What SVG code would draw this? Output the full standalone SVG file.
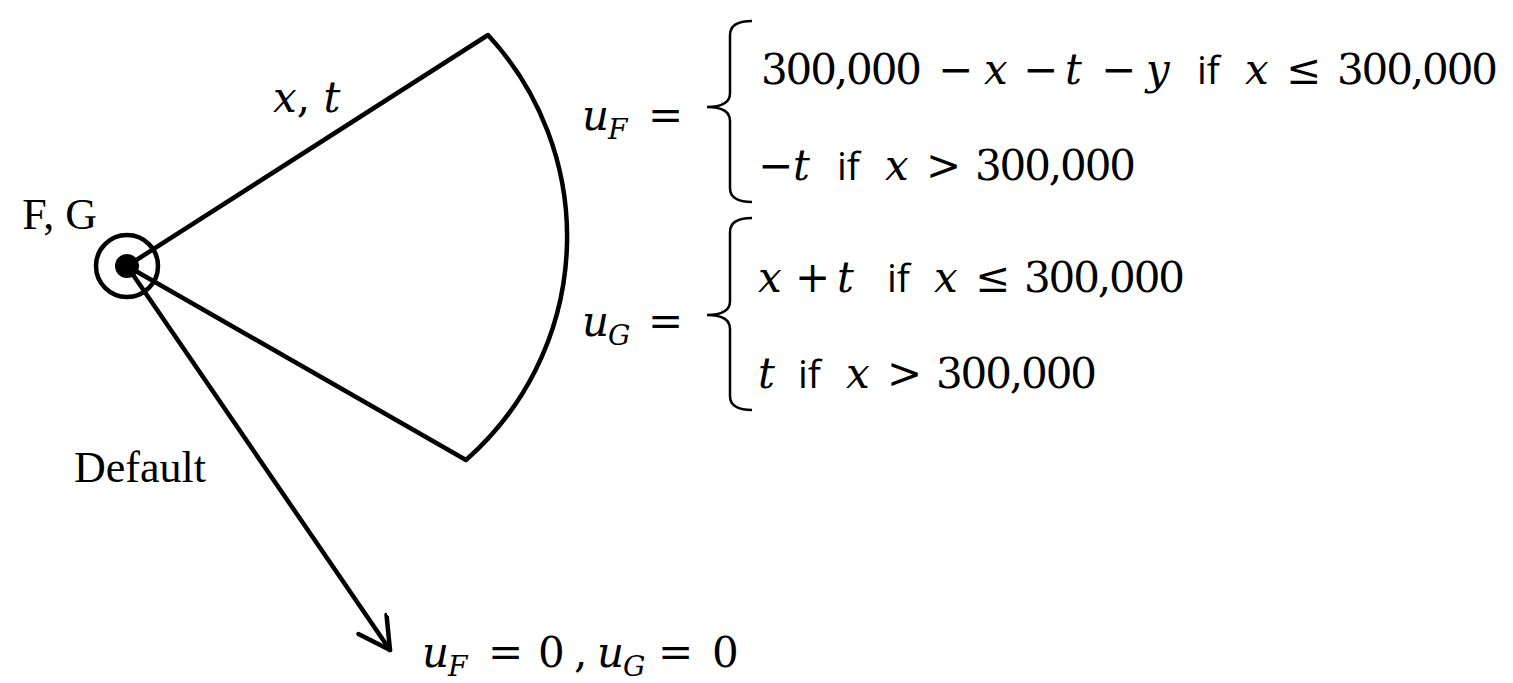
<svg xmlns="http://www.w3.org/2000/svg" width="1513" height="683" viewBox="0 0 1513 683">
<style>
.ln{fill:none;stroke:#000;stroke-width:4.5;stroke-linecap:round;stroke-linejoin:round}
.br{fill:none;stroke:#000;stroke-width:2.5}
.m{font-family:"DejaVu Serif","Liberation Serif",serif;font-size:42px;fill:#000}
.i{font-style:italic}
.s{font-family:"DejaVu Serif","Liberation Serif",serif;font-size:28px;font-style:italic;fill:#000}
.f{font-family:"Open Sans","Liberation Sans",sans-serif;font-size:39px;fill:#000}
.t{font-family:"Liberation Serif","Times New Roman",serif;font-size:44px;fill:#000}
</style>
<defs>
<marker id="arr" markerWidth="40" markerHeight="40" refX="35" refY="18" orient="auto" markerUnits="userSpaceOnUse">
<path d="M4,1 L35,18 L4,35" fill="none" stroke="#000" stroke-width="4.5" stroke-linecap="round" stroke-linejoin="round"/>
</marker>
</defs>
<g id="connectors">
<path class="ln" d="M127,266 L488,35 A297,297 0 0 1 466,460 Z"/>
<path class="ln" d="M127,266 L390,650" marker-end="url(#arr)"/>
</g>
<g id="node-FG">
<circle cx="127" cy="266" r="31" fill="none" stroke="#000" stroke-width="4.5"/>
<circle cx="127" cy="266" r="12" fill="#000"/>
<text class="t" x="97" y="229" text-anchor="end">F, G</text>
</g>
<g id="label-xt">
<text class="m" x="273" y="112"><tspan class="i">x</tspan>, <tspan class="i">t</tspan></text>
</g>
<g id="label-default">
<text class="t" x="74" y="482" font-size="46">Default</text>
</g>
<g id="payoff-F">
<text class="m i" x="582" y="130">u</text>
<text class="s" x="608" y="139">F</text>
<text class="m" x="648" y="130">=</text>
<path class="br" d="M752,21 Q730,21 730,35 L730,93 Q730,107 707,107 Q730,107 730,121 L730,188 Q730,202 752,202"/>
<text class="m" x="761" y="84" textLength="161">300,000</text>
<text class="m" x="938" y="84">−</text>
<text class="m i" x="984" y="84">x</text>
<text class="m" x="1023" y="84">−</text>
<text class="m i" x="1065" y="84">t</text>
<text class="m" x="1101" y="84">−</text>
<text class="m i" x="1146" y="84">y</text>
<text class="f" x="1197" y="84">if</text>
<text class="m i" x="1245" y="84">x</text>
<text class="m" x="1286" y="84">≤</text>
<text class="m" x="1337" y="84" textLength="161">300,000</text>
<text class="m" x="758" y="180">−</text>
<text class="m i" x="793" y="180">t</text>
<text class="f" x="837" y="180">if</text>
<text class="m i" x="885" y="180">x</text>
<text class="m" x="926" y="180">&gt;</text>
<text class="m" x="975" y="180" textLength="161">300,000</text>
</g>
<g id="payoff-G">
<text class="m i" x="582" y="336">u</text>
<text class="s" x="608" y="345">G</text>
<text class="m" x="648" y="336">=</text>
<path class="br" d="M752,218 Q730,218 730,232 L730,301 Q730,315 707,315 Q730,315 730,329 L730,396 Q730,410 752,410"/>
<text class="m i" x="758" y="292">x</text>
<text class="m" x="795" y="292">+</text>
<text class="m i" x="837" y="292">t</text>
<text class="f" x="887" y="292">if</text>
<text class="m i" x="934" y="292">x</text>
<text class="m" x="975" y="292">≤</text>
<text class="m" x="1024" y="292" textLength="161">300,000</text>
<text class="m i" x="758" y="388">t</text>
<text class="f" x="798" y="388">if</text>
<text class="m i" x="846" y="388">x</text>
<text class="m" x="887" y="388">&gt;</text>
<text class="m" x="936" y="388" textLength="161">300,000</text>
</g>
<g id="payoff-default">
<text class="m i" x="422" y="667">u</text>
<text class="s" x="448" y="676">F</text>
<text class="m" x="488" y="667">=</text>
<text class="m" x="538" y="667">0</text>
<text class="m" x="574" y="667">,</text>
<text class="m i" x="597" y="667">u</text>
<text class="s" x="623" y="676">G</text>
<text class="m" x="658" y="667">=</text>
<text class="m" x="712" y="667">0</text>
</g>
</svg>
